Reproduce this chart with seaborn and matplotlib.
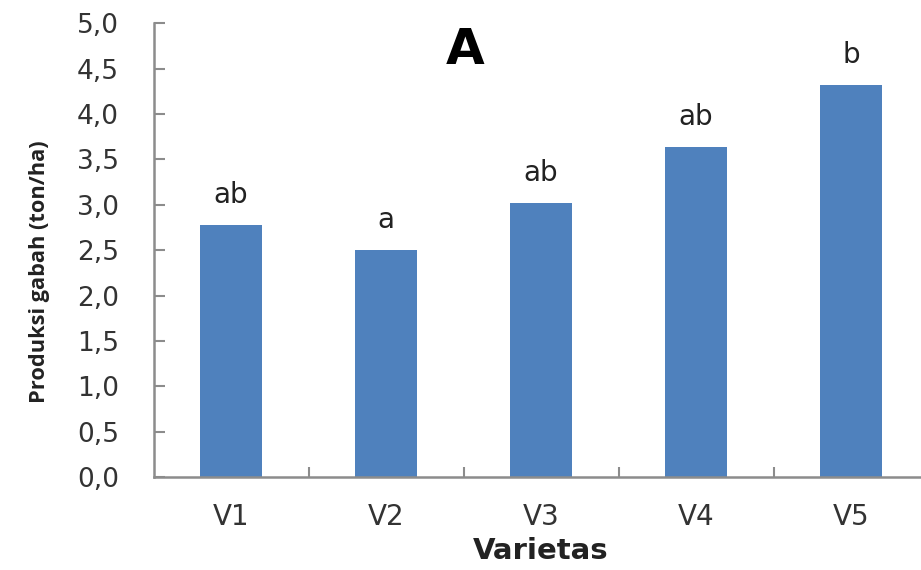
import matplotlib
matplotlib.use("Agg")
import matplotlib.pyplot as plt
from matplotlib import font_manager
import seaborn as sns
import pandas as pd
from matplotlib.ticker import FuncFormatter, FixedLocator

categories = ["V1", "V2", "V3", "V4", "V5"]
values = [2.78, 2.50, 3.02, 3.64, 4.32]
letters = ["ab", "a", "ab", "ab", "b"]

sns.set_theme(style="white")
plt.rcParams['font.family'] = ['DejaVu Sans']

names = {f.name for f in font_manager.fontManager.ttflist}
if "Liberation Sans Narrow" in names:
    ylab_family, ylab_size = "Liberation Sans Narrow", 18.5
else:
    ylab_family, ylab_size = "Open Sans", 15.7

df = pd.DataFrame({"Varietas": categories, "Produksi": values})

fig = plt.figure(figsize=(9.21, 5.70), dpi=100)
ax = fig.add_axes([0.1667, 0.163, 0.8415, 0.796])
sns.barplot(data=df, x="Varietas", y="Produksi", color="#4F81BD", saturation=1,
            width=0.4, ax=ax, edgecolor="none")

ax.set_xlim(-0.5, 4.5)
ax.set_ylim(0, 5.0)
ax.set_yticks([i * 0.5 for i in range(11)])
ax.yaxis.set_major_formatter(FuncFormatter(lambda v, p: f"{v:.1f}".replace(".", ",")))
ax.xaxis.set_minor_locator(FixedLocator([0.5, 1.5, 2.5, 3.5]))

for s in ["top", "right"]:
    ax.spines[s].set_visible(False)
for s in ["left", "bottom"]:
    ax.spines[s].set_color("#8c8c8c")
    ax.spines[s].set_linewidth(1.8)

ax.tick_params(axis="y", which="major", direction="in", length=8, width=1.5, color="#8c8c8c",
               labelsize=19, labelcolor="#333333", pad=25, left=True)
ax.tick_params(axis="x", which="major", length=0, labelsize=20, labelcolor="#333333", pad=19)
ax.tick_params(axis="x", which="minor", direction="in", length=7, width=1.5, color="#8c8c8c", bottom=True)

ax.set_xlabel("Varietas", fontsize=21, fontweight="bold", color="#222222", labelpad=4)
ax.set_ylabel("Produksi gabah (ton/ha)", fontsize=ylab_size, fontweight="bold",
              family=ylab_family, color="#222222")
ax.yaxis.set_label_coords(-0.134, 0.453)

for i, (v, t) in enumerate(zip(values, letters)):
    ax.annotate(t, (i, v), xytext=(0, 16), textcoords="offset points",
                ha="center", va="baseline", fontsize=20, color="#222222")

ax.text(0.402, 0.911, "A", transform=ax.transAxes, ha="center", va="baseline",
        fontsize=36, fontweight="bold", color="black")

fig.savefig("out.png", dpi=100)
